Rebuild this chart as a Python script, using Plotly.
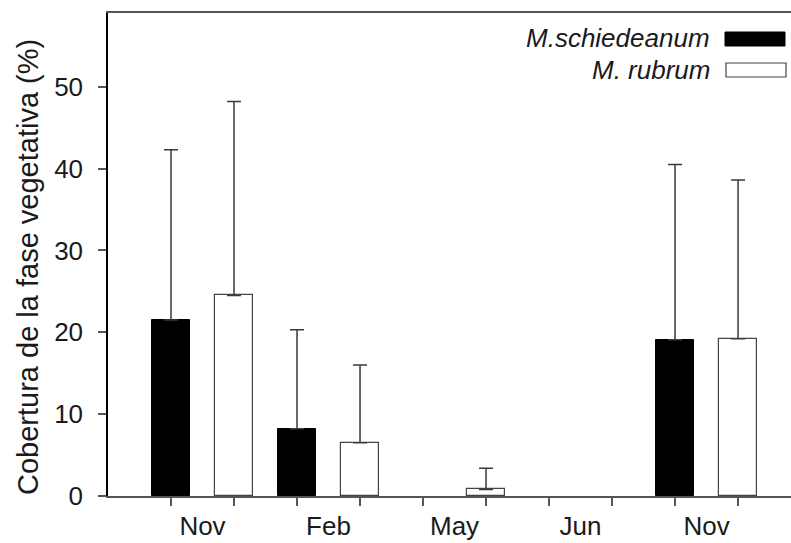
import plotly.graph_objects as go

months = ["Nov", "Feb", "May", "Jun", "Nov"]
schiedeanum_mean = [21.5, 8.2, 0.0, 0.0, 19.1]
schiedeanum_upper = [42.3, 20.3, None, None, 40.5]
rubrum_mean = [24.5, 6.5, 0.8, 0.0, 19.2]
rubrum_upper = [48.2, 16.0, 3.4, None, 38.6]
y_ticks = [0, 10, 20, 30, 40, 50]
y_title = "Cobertura de la fase vegetativa (%)"

x_black = [2 * i for i in range(len(months))]
x_white = [2 * i + 1 for i in range(len(months))]
x_label = [2 * i + 0.5 for i in range(len(months))]

def outline(mean, w):
    return [0 if m == 0 else w for m in mean]

def err_trace(xs, mean, upper):
    keep = [i for i, u in enumerate(upper) if u is not None]
    return go.Scatter(
        x=[xs[i] for i in keep], y=[mean[i] for i in keep], mode="markers",
        marker=dict(size=0.1, opacity=0), showlegend=False, hoverinfo="skip",
        error_y=dict(type="data", symmetric=False,
                     array=[upper[i] - mean[i] for i in keep],
                     arrayminus=[0] * len(keep), color="#3a3a3a", thickness=1.5, width=7))

FONT = "Liberation Sans, Arial, sans-serif"
W, H = 791, 543
L, T, B = 108, 13, 47
XR = [-1, 9.84]

fig = go.Figure()
fig.add_trace(go.Bar(
    x=x_black, y=schiedeanum_mean, width=0.6, name="M.schiedeanum",
    marker=dict(color="black", line=dict(color="black", width=outline(schiedeanum_mean, 1))),
    showlegend=False))
fig.add_trace(go.Bar(
    x=x_white, y=rubrum_mean, width=0.6, name="M. rubrum",
    marker=dict(color="white", line=dict(color="#444", width=outline(rubrum_mean, 1.2))),
    showlegend=False))
fig.add_trace(err_trace(x_black, schiedeanum_mean, schiedeanum_upper))
fig.add_trace(err_trace(x_white, rubrum_mean, rubrum_upper))
# invisible trace to carry month labels on overlaying axis
fig.add_trace(go.Scatter(x=x_label, y=[0] * 5, mode="markers", xaxis="x2",
                         marker=dict(opacity=0), showlegend=False, hoverinfo="skip"))

fig.update_layout(
    width=W, height=H,
    margin=dict(l=L, r=0, t=T, b=B),
    plot_bgcolor="white", paper_bgcolor="white",
    font=dict(family=FONT, size=26, color="#1a1a1a"),
    bargap=0, barmode="overlay",
    xaxis=dict(range=XR, tickvals=list(range(10)), ticktext=[""] * 10,
               ticks="outside", ticklen=8, tickwidth=1.5, tickcolor="#555",
               showline=True, linecolor="#555", linewidth=1.5, mirror=True,
               showgrid=False, zeroline=False),
    xaxis2=dict(range=XR, overlaying="x", anchor="y", side="bottom",
                tickvals=x_label, ticktext=months, ticks="", showline=False,
                showgrid=False, zeroline=False, ticklabelstandoff=12,
                tickfont=dict(family=FONT, size=26, color="#1a1a1a")),
    yaxis=dict(range=[0, 59], tickvals=y_ticks, ticks="outside", ticklen=8,
               tickwidth=1.5, tickcolor="#555", showline=True, linecolor="black",
               linewidth=1.5, showgrid=False, zeroline=False,
               ticklabelstandoff=10,
               tickfont=dict(family=FONT, size=26, color="#1a1a1a")),
)

pw = W - L
ph = H - T - B
def px(x):
    return (x - L) / pw
def py(y):
    return (H - B - y) / ph

fig.add_annotation(xref="paper", yref="paper", x=px(28), y=py(267), xanchor="center",
                   yanchor="middle", showarrow=False, text=y_title, textangle=-90,
                   font=dict(family=FONT, size=29, color="#1a1a1a"))
fig.add_annotation(xref="paper", yref="paper", x=px(712), y=py(38), xanchor="right",
                   yanchor="middle", showarrow=False, text="<i>M.schiedeanum</i>",
                   font=dict(family=FONT, size=26, color="#1a1a1a"))
fig.add_annotation(xref="paper", yref="paper", x=px(712), y=py(70), xanchor="right",
                   yanchor="middle", showarrow=False, text="<i>M. rubrum</i>",
                   font=dict(family=FONT, size=26, color="#1a1a1a"))
fig.add_shape(type="rect", xref="paper", yref="paper", x0=px(725), x1=px(785),
              y0=py(46), y1=py(32), fillcolor="black", line=dict(color="black", width=1))
fig.add_shape(type="rect", xref="paper", yref="paper", x0=px(726), x1=px(786),
              y0=py(77), y1=py(63), fillcolor="white", line=dict(color="#444", width=1.2))

fig.write_html("out.html")
